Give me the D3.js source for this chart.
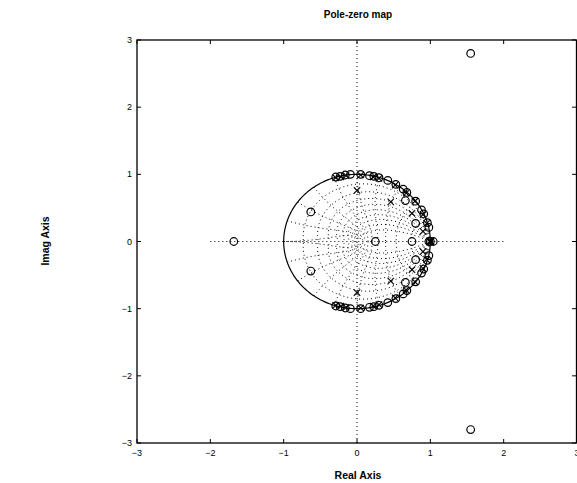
<!DOCTYPE html>
<html>
<head>
<meta charset="utf-8">
<script src="https://cdn.jsdelivr.net/npm/d3@7"></script>
<style>
  body { margin: 0; background: #fff; }
  svg { display: block; }
</style>
</head>
<body>
<div id="chart"></div>
<script>
// axis ticks
var xTicks = [-3, -2, -1, 0, 1, 2, 3];
var yTicks = [-3, -2, -1, 0, 1, 2, 3];

// zeros: upper half plane (conjugates mirrored) and real zeros
var zerosRe = [-0.29, -0.23, -0.16, -0.09, 0.05, 0.17, 0.23, 0.30, 0.42, 0.53, 0.63, 0.68, 0.80, 0.88, 0.91, 0.96, 0.98, 0.66, 0.80, -0.63, 1.55];
var zerosIm = [0.96, 0.97, 0.99, 1.00, 1.00, 0.98, 0.97, 0.95, 0.91, 0.85, 0.78, 0.73, 0.60, 0.47, 0.41, 0.28, 0.21, 0.61, 0.27, 0.44, 2.80];
var realZeros = [-1.68, 0.25, 0.75, 0.98, 1.00, 1.04];

// poles: upper half plane (conjugates mirrored) and real poles
var polesRe = [-0.29, -0.22, -0.15, 0.05, 0.22, 0.30, 0.52, 0.67, 0.79, 0.90, 0.95, 0.00, 0.46, 0.75, 0.90];
var polesIm = [0.95, 0.96, 0.98, 0.99, 0.96, 0.94, 0.84, 0.72, 0.60, 0.40, 0.27, 0.76, 0.59, 0.42, 0.15];
var realPoles = [0.99, 1.00, 1.01];

// z-plane grid
var zetaValues = [0.1, 0.2, 0.3, 0.4, 0.5, 0.6, 0.7, 0.8, 0.9];
var wnValues = [0.1, 0.2, 0.3, 0.4, 0.5, 0.6, 0.7, 0.8, 0.9, 1.0]; // times pi

var W = 577, H = 483;
var x = d3.scaleLinear().domain([-3, 3]).range([137, 577]);
var y = d3.scaleLinear().domain([-3, 3]).range([443, 40]);

var svg = d3.select("#chart").append("svg")
    .attr("width", W)
    .attr("height", H)
    .style("font-family", "'Liberation Sans', Arial, sans-serif");

var line = d3.line()
    .x(function (d) { return x(d[0]); })
    .y(function (d) { return y(d[1]); });

// plot area clip
svg.append("clipPath").attr("id", "clip")
    .append("rect").attr("x", 137).attr("y", 40).attr("width", 440).attr("height", 403);
var plot = svg.append("g").attr("clip-path", "url(#clip)");

var grid = plot.append("g")
    .attr("fill", "none")
    .attr("stroke", "#000")
    .attr("stroke-width", 1)
    .attr("stroke-dasharray", "1,3");

// constant damping curves
zetaValues.forEach(function (zeta) {
    var s = Math.sqrt(1 - zeta * zeta);
    var wmax = Math.PI / s;
    [1, -1].forEach(function (sign) {
        var pts = d3.range(0, 101).map(function (k) {
            var w = wmax * k / 100, m = Math.exp(-zeta * w);
            return [m * Math.cos(w * s), sign * m * Math.sin(w * s)];
        });
        grid.append("path").attr("d", line(pts));
    });
});

// constant natural frequency curves
wnValues.forEach(function (f) {
    var wn = f * Math.PI;
    [1, -1].forEach(function (sign) {
        var pts = d3.range(0, 101).map(function (k) {
            var zeta = k / 100, m = Math.exp(-zeta * wn), a = wn * Math.sqrt(1 - zeta * zeta);
            return [m * Math.cos(a), sign * m * Math.sin(a)];
        });
        grid.append("path").attr("d", line(pts));
    });
});

// axis lines
grid.append("line")
    .attr("x1", x(-2)).attr("x2", x(2))
    .attr("y1", y(0)).attr("y2", y(0));
grid.append("line")
    .attr("x1", x(0)).attr("x2", x(0))
    .attr("y1", y(-3)).attr("y2", y(3));

// unit circle
plot.append("path")
    .attr("fill", "none")
    .attr("stroke", "#000")
    .attr("stroke-width", 1.2)
    .attr("d", line(d3.range(0, 361).map(function (a) {
        var t = a * Math.PI / 180;
        return [Math.cos(t), Math.sin(t)];
    })));

// points incl. conjugates
var zeros = [], poles = [];
zerosRe.forEach(function (r, i) { zeros.push([r, zerosIm[i]], [r, -zerosIm[i]]); });
realZeros.forEach(function (r) { zeros.push([r, 0]); });
polesRe.forEach(function (r, i) { poles.push([r, polesIm[i]], [r, -polesIm[i]]); });
realPoles.forEach(function (r) { poles.push([r, 0]); });

plot.selectAll("circle.zero")
    .data(zeros).enter()
    .append("circle")
    .attr("class", "zero")
    .attr("cx", function (d) { return x(d[0]); })
    .attr("cy", function (d) { return y(d[1]); })
    .attr("r", 3.8)
    .attr("fill", "none")
    .attr("stroke", "#000")
    .attr("stroke-width", 1.2);

var px = plot.selectAll("g.pole")
    .data(poles).enter()
    .append("g")
    .attr("class", "pole")
    .attr("transform", function (d) { return "translate(" + x(d[0]) + "," + y(d[1]) + ")"; })
    .attr("stroke", "#000")
    .attr("stroke-width", 1.1);
px.append("line").attr("x1", -3.2).attr("y1", -3.2).attr("x2", 3.2).attr("y2", 3.2);
px.append("line").attr("x1", -3.2).attr("y1", 3.2).attr("x2", 3.2).attr("y2", -3.2);

// frame and ticks
svg.append("rect")
    .attr("x", 137).attr("y", 40).attr("width", 439.5).attr("height", 403)
    .attr("fill", "none").attr("stroke", "#000").attr("stroke-width", 1.3);

var tickLen = 4;
var fmt = d3.format("d");
xTicks.forEach(function (t) {
    svg.append("line").attr("x1", x(t)).attr("x2", x(t)).attr("y1", 443).attr("y2", 443 - tickLen).attr("stroke", "#000");
    svg.append("line").attr("x1", x(t)).attr("x2", x(t)).attr("y1", 40).attr("y2", 40 + tickLen).attr("stroke", "#000");
    svg.append("text")
        .attr("x", x(t)).attr("y", 456)
        .attr("text-anchor", "middle")
        .attr("font-size", 9)
        .text(fmt(t));
});
yTicks.forEach(function (t) {
    svg.append("line").attr("x1", 137).attr("x2", 137 + tickLen).attr("y1", y(t)).attr("y2", y(t)).attr("stroke", "#000");
    svg.append("line").attr("x1", 576).attr("x2", 576 - tickLen).attr("y1", y(t)).attr("y2", y(t)).attr("stroke", "#000");
    svg.append("text")
        .attr("x", 132).attr("y", y(t) + 3)
        .attr("text-anchor", "end")
        .attr("font-size", 9)
        .text(fmt(t));
});

// titles
svg.append("text")
    .attr("x", 358).attr("y", 18)
    .attr("text-anchor", "middle")
    .attr("font-size", 10)
    .attr("font-weight", "bold")
    .text("Pole-zero map");
svg.append("text")
    .attr("x", 358).attr("y", 479)
    .attr("text-anchor", "middle")
    .attr("font-size", 10.5)
    .attr("font-weight", "bold")
    .text("Real Axis");
svg.append("text")
    .attr("transform", "translate(49,241) rotate(-90)")
    .attr("text-anchor", "middle")
    .attr("font-size", 10.5)
    .attr("font-weight", "bold")
    .text("Imag Axis");
</script>
</body>
</html>
